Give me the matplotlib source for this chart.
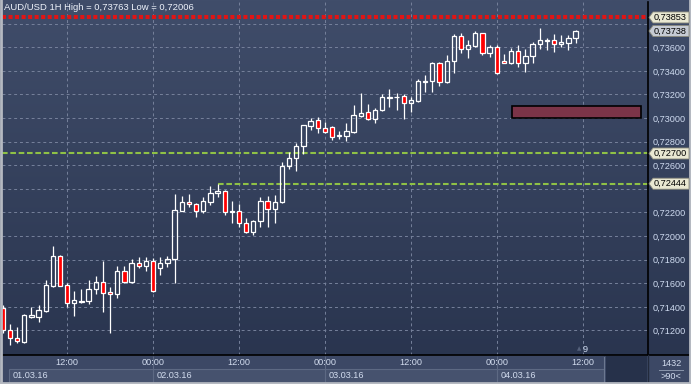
import numpy as np
import matplotlib.pyplot as plt
from matplotlib.patches import Rectangle, Polygon
from matplotlib.lines import Line2D
from matplotlib.colors import LinearSegmentedColormap
from matplotlib.transforms import blended_transform_factory

plt.rcParams['font.family'] = ['Liberation Sans', 'DejaVu Sans']

# AUD/USD, 1 hour bars, 01.03.16 03:00 .. 04.03.16 11:00
opens = [
    0.71388, 0.71204, 0.71134, 0.71105, 0.71317, 0.71317, 0.71368, 0.71580, 0.71831, 0.71586,
    0.71431, 0.71444, 0.71453, 0.71549, 0.71614, 0.71529, 0.71507, 0.71707, 0.71614, 0.71770,
    0.71747, 0.71789, 0.71727, 0.71770, 0.71803, 0.72215, 0.72287, 0.72270, 0.72215, 0.72292,
    0.72363, 0.72380, 0.72202, 0.72210, 0.72109, 0.72032, 0.72126, 0.72298, 0.72227, 0.72287,
    0.72594, 0.72659, 0.72764, 0.72933, 0.72984, 0.72914, 0.72922, 0.72850, 0.72851, 0.72885,
    0.73020, 0.73049, 0.72990, 0.73069, 0.73173, 0.73178, 0.73187, 0.73126, 0.73148, 0.73309,
    0.73317, 0.73465, 0.73304, 0.73487, 0.73696, 0.73583, 0.73614, 0.73719, 0.73549, 0.73600,
    0.73484, 0.73465, 0.73569, 0.73465, 0.73526, 0.73626, 0.73656, 0.73662, 0.73626, 0.73639,
    0.73676]
highs = [
    0.71416, 0.71255, 0.71230, 0.71340, 0.71399, 0.71416, 0.71628, 0.71916, 0.71840, 0.71603,
    0.71535, 0.71552, 0.71628, 0.71662, 0.71789, 0.71566, 0.71747, 0.71747, 0.71806, 0.71820,
    0.71820, 0.71812, 0.71820, 0.71831, 0.72357, 0.72340, 0.72357, 0.72283, 0.72331, 0.72425,
    0.72442, 0.72391, 0.72300, 0.72272, 0.72151, 0.72137, 0.72334, 0.72340, 0.72348, 0.72631,
    0.72715, 0.72786, 0.72945, 0.72998, 0.73007, 0.72970, 0.72933, 0.72891, 0.72961, 0.73111,
    0.73210, 0.73120, 0.73083, 0.73204, 0.73247, 0.73215, 0.73204, 0.73181, 0.73332, 0.73365,
    0.73478, 0.73478, 0.73535, 0.73713, 0.73719, 0.73662, 0.73741, 0.73724, 0.73620, 0.73620,
    0.73543, 0.73592, 0.73620, 0.73583, 0.73648, 0.73763, 0.73676, 0.73713, 0.73704, 0.73704,
    0.73747]
lows = [
    0.71179, 0.71077, 0.71094, 0.71094, 0.71306, 0.71275, 0.71360, 0.71571, 0.71575, 0.71402,
    0.71325, 0.71436, 0.71425, 0.71509, 0.71359, 0.71181, 0.71478, 0.71605, 0.71600, 0.71732,
    0.71704, 0.71529, 0.71670, 0.71741, 0.71605, 0.72210, 0.72244, 0.72165, 0.72198, 0.72264,
    0.72334, 0.72181, 0.72114, 0.72080, 0.72024, 0.72006, 0.72080, 0.72080, 0.72114, 0.72278,
    0.72566, 0.72554, 0.72693, 0.72899, 0.72876, 0.72871, 0.72814, 0.72823, 0.72809, 0.72871,
    0.73007, 0.72985, 0.72961, 0.73063, 0.73097, 0.73069, 0.72990, 0.73054, 0.73134, 0.73224,
    0.73224, 0.73275, 0.73295, 0.73380, 0.73554, 0.73507, 0.73600, 0.73532, 0.73520, 0.73374,
    0.73465, 0.73459, 0.73436, 0.73393, 0.73470, 0.73583, 0.73577, 0.73563, 0.73600, 0.73577,
    0.73639]
closes = [
    0.71204, 0.71134, 0.71111, 0.71331, 0.71331, 0.71374, 0.71586, 0.71831, 0.71580, 0.71431,
    0.71459, 0.71453, 0.71552, 0.71614, 0.71520, 0.71507, 0.71707, 0.71614, 0.71770, 0.71747,
    0.71789, 0.71537, 0.71770, 0.71803, 0.72221, 0.72287, 0.72270, 0.72215, 0.72298, 0.72363,
    0.72380, 0.72202, 0.72210, 0.72109, 0.72032, 0.72126, 0.72298, 0.72227, 0.72287, 0.72594,
    0.72659, 0.72764, 0.72939, 0.72976, 0.72914, 0.72880, 0.72842, 0.72855, 0.72891, 0.73024,
    0.73046, 0.72990, 0.73069, 0.73176, 0.73181, 0.73183, 0.73126, 0.73154, 0.73315, 0.73317,
    0.73465, 0.73309, 0.73484, 0.73696, 0.73583, 0.73620, 0.73719, 0.73549, 0.73600, 0.73380,
    0.73465, 0.73569, 0.73465, 0.73526, 0.73628, 0.73662, 0.73662, 0.73626, 0.73643, 0.73676,
    0.73738]

price_levels = [0.712, 0.714, 0.716, 0.718, 0.720, 0.722, 0.724, 0.726, 0.728,
                0.730, 0.732, 0.734, 0.736, 0.738]
hidden_labels = [0.724, 0.738]
hour_ticks = [9, 21, 33, 45, 57, 69, 81]
hour_labels = ['12:00', '00:00', '12:00', '00:00', '12:00', '00:00', '12:00']
day_starts = [21, 45, 69]
day_labels = ['01.03.16', '02.03.16', '03.03.16', '04.03.16']

day_high = 0.73853
bid = 0.73738
level_a = 0.72700
level_b = 0.72444
level_b_start = 30
zone = (0.7300, 0.7310)
zone_x = (71.1, 89.15)
stat_from = 25  # High/Low in the header cover the bars from here on

W, H = 691, 384
def fx(px): return px / W
def fy(py): return 1 - py / H

fig = plt.figure(figsize=(W / 100, H / 100), dpi=100)

bg = fig.add_axes([0, 0, 1, 1])
bg.set_axis_off()
cmap = LinearSegmentedColormap.from_list('bg', ['#404d6a', '#28334d'])
bg.imshow(np.linspace(0, 1, 256).reshape(-1, 1), aspect='auto', cmap=cmap, extent=[0, 1, 0, 1])
bg.set_xlim(0, 1)
bg.set_ylim(0, 1)
# bottom strip
bg.add_patch(Rectangle((0, 0), 1, fy(355), fc='#3c4865', ec='none'))
bg.add_patch(Rectangle((fx(9), fy(382)), fx(604) - fx(9), fy(369) - fy(382), fc='#46526e', ec='none'))
bg.add_patch(Rectangle((fx(606), fy(383)), fx(647) - fx(606), fy(356) - fy(383), fc='#26314a', ec='none'))

ymin, ymax = 0.70992, 0.73984
ax = fig.add_axes([fx(2), fy(355), fx(648) - fx(2), fy(2) - fy(355)])
ax.set_facecolor('none')
ax.set_xlim(-0.1, 90.12)
ax.set_ylim(ymin, ymax)

ax.set_yticks(price_levels)
ax.set_yticklabels(['' if v in hidden_labels else f'{v:.5f}'.replace('.', ',') for v in price_levels])
ax.yaxis.tick_right()
ax.tick_params(axis='y', length=0, labelsize=6.6, labelcolor='#cfdbf0', pad=3)
ax.set_xticks(hour_ticks)
ax.tick_params(axis='x', length=0, labelbottom=False)
ax.grid(True, ls=(0, (3, 3)), color='#76819b', lw=0.7)
ax.set_axisbelow(True)
for s in ['left', 'top']:
    ax.spines[s].set_visible(False)
for s in ['right', 'bottom']:
    ax.spines[s].set_color('black')
    ax.spines[s].set_linewidth(1.2)

o = np.array(opens); c = np.array(closes); h = np.array(highs); l = np.array(lows)
idx = np.arange(len(o))
up = c >= o
top = np.maximum(o, c)
bot = np.minimum(o, c)
ax.vlines(idx, top, h, color='white', lw=0.9, zorder=3)
ax.vlines(idx, l, bot, color='white', lw=0.9, zorder=3)
hgt = np.maximum(top - bot, 0.00002)
ax.bar(idx[up], hgt[up], 0.6, bot[up], facecolor='none', edgecolor='white', lw=0.9, zorder=4)
ax.bar(idx[~up], hgt[~up], 0.6, bot[~up], facecolor='#ff0000', edgecolor='white', lw=0.9, zorder=4)

ax.axhline(day_high, color='#e01515', lw=2.9, ls=(0, (1.0, 0.62)), zorder=2)
ax.axhline(level_a, color='#8fc146', lw=1.5, ls=(0, (2.7, 1.3)), zorder=2)
ax.hlines(level_b, level_b_start, 90.12, color='#8fc146', lw=1.5, ls=(0, (2.7, 1.3)), zorder=2)
ax.add_patch(Rectangle((zone_x[0], zone[0]), zone_x[1] - zone_x[0], zone[1] - zone[0],
                       fc='#7b3448', ec='black', lw=1.2, zorder=3))

# price tags on the right scale
tr = blended_transform_factory(fig.transFigure, ax.transData)
dp = (ymax - ymin) / 353
def tag(price, fc):
    hh = 5.5 * dp
    x0, x1, x2 = fx(649), fx(653), fx(689)
    fig.add_artist(Polygon([(x0, price), (x1, price + hh), (x2, price + hh), (x2, price - hh), (x1, price - hh)],
                           closed=True, fc=fc, ec='#8a8a7c', lw=0.6, transform=tr, zorder=5))
    fig.text(fx(654), price, f'{price:.5f}'.replace('.', ','), transform=tr, ha='left', va='center',
             fontsize=6.6, color='black', zorder=6)

tag(day_high, '#e9e8d2')
tag(bid, '#c6cbd4')
tag(level_a, '#e9e8d2')
tag(level_b, '#e9e8d2')

hi = f'{max(highs[stat_from:]):.5f}'.replace('.', ',')
lo = f'{min(lows[stat_from:]):.5f}'.replace('.', ',')
fig.text(fx(4), fy(8), f'AUD/USD 1H High = {hi} Low = {lo}',
         ha='left', va='center', fontsize=6.8, color='#eef2fa')

fig.text(fx(579), fy(349), '\u25b2', ha='center', va='center', fontsize=4, color='#55617b', family='DejaVu Sans')
fig.text(fx(585), fy(349), '9', ha='center', va='center', fontsize=6.6, color='#cfdbf0')

# time scale strip
sx = fig.add_axes([fx(2), fy(383), fx(648) - fx(2), fy(355) - fy(383)])
sx.set_axis_off()
sx.set_xlim(-0.1, 90.12)
sx.set_ylim(383, 355)
for t, lab in zip(hour_ticks, hour_labels):
    sx.text(t, 362.5, lab, ha='center', va='center', fontsize=6.6, color='#d2dcee')
sx.hlines(369, 0.9, 84.0, color='#5d6983', lw=0.8)
sx.vlines(0.9, 369, 382, color='#5d6983', lw=0.8)
sx.vlines(day_starts, 356, 382, color='#5d6983', lw=0.8)
for x, lab in zip([1.45] + [d + 0.55 for d in day_starts], day_labels):
    sx.text(x, 375.5, lab, ha='left', va='center', fontsize=6.6, color='#d2dcee')

fig.add_artist(Line2D([fx(604), fx(604)], [fy(357), fy(382)], color='#6c7890', lw=0.8))
fig.add_artist(Line2D([fx(648), 1], [fy(355), fy(355)], color='black', lw=1.2))
fig.add_artist(Line2D([fx(648), fx(648)], [fy(355), fy(384)], color='#222a3c', lw=1.0))
fig.text(fx(671), fy(363), '1432', ha='center', va='center', fontsize=6.6, color='#d2dcee')
fig.add_artist(Line2D([fx(659), fx(683)], [fy(369.5), fy(369.5)], color='#8a96ac', lw=0.7))
fig.text(fx(671), fy(376.5), '>90<', ha='center', va='center', fontsize=6.6, color='#d2dcee')

# outer frame
for xs, ys in [([0.001, 0.001], [0, 1]), ([0.999, 0.999], [0, 1]), ([0, 1], [0.002, 0.002])]:
    fig.add_artist(Line2D(xs, ys, color='#b5b9c1', lw=2))

fig.savefig('out.png', dpi=100)
